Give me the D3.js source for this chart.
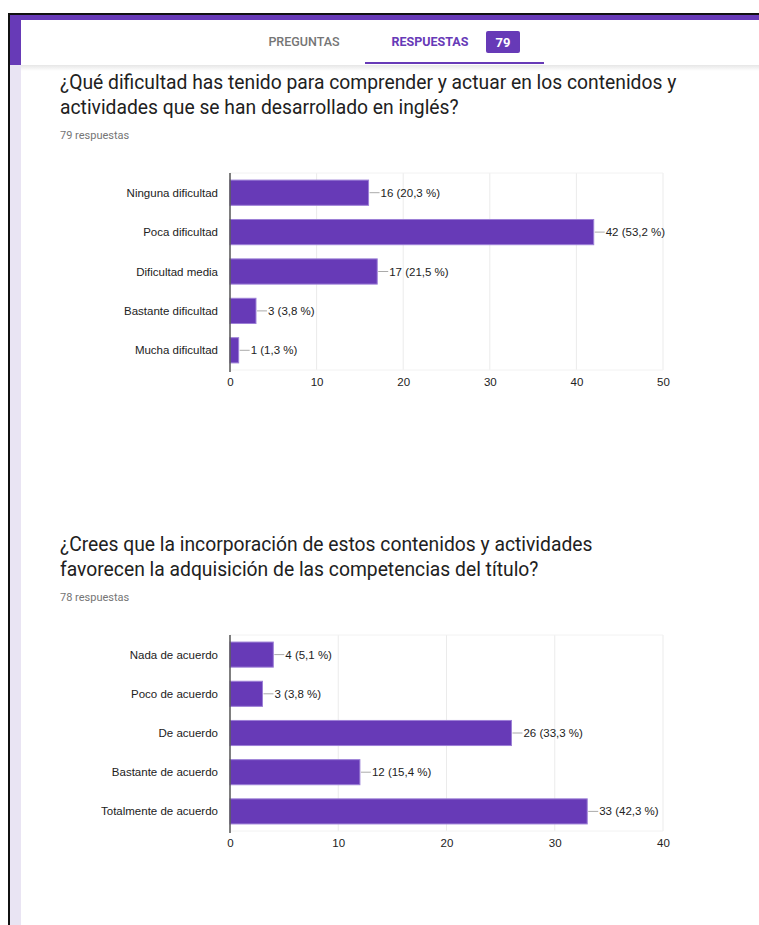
<!doctype html>
<html lang="es">
<head>
<meta charset="utf-8">
<title>Respuestas</title>
<style>
body { margin: 0; background: #fff; font-family: Roboto, Arial, sans-serif; }
svg { display: block; }
</style>
</head>
<body>
<div id="page"></div>
<script src="https://cdn.jsdelivr.net/npm/d3@7"></script>
<script>
// question 1
var cats1 = ["Ninguna dificultad", "Poca dificultad", "Dificultad media", "Bastante dificultad", "Mucha dificultad"];
var vals1 = [16, 42, 17, 3, 1];
var pcts1 = ["20,3", "53,2", "21,5", "3,8", "1,3"];
var ticks1 = [0, 10, 20, 30, 40, 50];

// question 2
var cats2 = ["Nada de acuerdo", "Poco de acuerdo", "De acuerdo", "Bastante de acuerdo", "Totalmente de acuerdo"];
var vals2 = [4, 3, 26, 12, 33];
var pcts2 = ["5,1", "3,8", "33,3", "15,4", "42,3"];
var ticks2 = [0, 10, 20, 30, 40];

var W = 759, H = 925;
var purple = "#673ab7";
var chartFont = "'Liberation Sans', Arial, sans-serif";

var svg = d3.select("#page").append("svg").attr("width", W).attr("height", H);

// page frame
svg.append("rect").attr("x", 10).attr("y", 15).attr("width", 11).attr("height", 50).attr("fill", purple);
svg.append("rect").attr("x", 10).attr("y", 65).attr("width", 11).attr("height", H - 65).attr("fill", "#e9e4f3");
svg.append("rect").attr("x", 10).attr("y", 15).attr("width", W - 10).attr("height", 5).attr("fill", purple);
svg.append("line").attr("x1", 8).attr("x2", W).attr("y1", 14).attr("y2", 14).attr("stroke", "#111").attr("stroke-width", 2);
svg.append("line").attr("x1", 9).attr("x2", 9).attr("y1", 13).attr("y2", H).attr("stroke", "#111").attr("stroke-width", 2);

// header shadow
var grad = svg.append("defs").append("linearGradient").attr("id", "shadow").attr("x1", 0).attr("x2", 0).attr("y1", 0).attr("y2", 1);
grad.append("stop").attr("offset", 0).attr("stop-color", "#e6e6e6");
grad.append("stop").attr("offset", 1).attr("stop-color", "#fff");
svg.append("rect").attr("x", 21).attr("y", 65).attr("width", W - 21).attr("height", 6).attr("fill", "url(#shadow)");

// tabs
svg.append("text").attr("x", 304).attr("y", 46).attr("text-anchor", "middle")
  .attr("font-size", 12.5).attr("font-weight", 500).attr("fill", "#757575").text("PREGUNTAS");
svg.append("text").attr("x", 430).attr("y", 46).attr("text-anchor", "middle")
  .attr("font-size", 12.5).attr("font-weight", 700).attr("fill", purple).text("RESPUESTAS");
svg.append("rect").attr("x", 486).attr("y", 31).attr("width", 34).attr("height", 22).attr("rx", 2).attr("fill", purple);
svg.append("text").attr("x", 503).attr("y", 46.5).attr("text-anchor", "middle")
  .attr("font-size", 13).attr("font-weight", 700).attr("fill", "#fff").text("79");
svg.append("rect").attr("x", 365).attr("y", 62).attr("width", 179).attr("height", 2).attr("fill", purple);

function question(y0, lines, count) {
  lines.forEach(function(t, i) {
    svg.append("text").attr("x", 60).attr("y", y0 + i * 25).attr("font-size", 19.3)
      .attr("fill", "#212121").text(t);
  });
  svg.append("text").attr("x", 60).attr("y", y0 + 50).attr("font-size", 11)
    .attr("fill", "#757575").text(count);
}

function chart(cats, vals, pcts, ticks, top, bottom) {
  var x = d3.scaleLinear().domain([0, d3.max(ticks)]).range([230, 663]);
  var y = d3.scaleBand().domain(cats).range([top, bottom]).paddingInner(0.36).paddingOuter(0.18);
  var g = svg.append("g").attr("font-family", chartFont);

  // grid box
  g.selectAll(".grid").data(ticks.slice(1)).enter().append("line")
    .attr("x1", function(d) { return x(d); }).attr("x2", function(d) { return x(d); })
    .attr("y1", top).attr("y2", bottom).attr("stroke", "#ebebeb");
  [top, bottom].forEach(function(yy) {
    g.append("line").attr("x1", x(0)).attr("x2", x.range()[1]).attr("y1", yy).attr("y2", yy).attr("stroke", "#f2f2f2");
  });

  var axis = g.append("g").attr("transform", "translate(0," + (bottom + 8) + ")")
    .call(d3.axisBottom(x).tickValues(ticks).tickSize(0).tickPadding(0));
  axis.select(".domain").remove();
  axis.selectAll("text").attr("font-family", chartFont).attr("font-size", 11.5).attr("fill", "#222");

  g.selectAll(".cat").data(cats).enter().append("text")
    .attr("x", 218).attr("y", function(d) { return y(d) + y.bandwidth() / 2 + 4; })
    .attr("text-anchor", "end").attr("font-size", 11.5).attr("fill", "#222").text(function(d) { return d; });

  g.selectAll(".bar").data(vals).enter().append("rect")
    .attr("x", x(0)).attr("y", function(d, i) { return y(cats[i]); })
    .attr("width", function(d) { return x(d) - x(0); }).attr("height", y.bandwidth())
    .attr("fill", purple).attr("stroke", "#9c7fd6").attr("stroke-width", 1);

  g.selectAll(".lead").data(vals).enter().append("line")
    .attr("x1", function(d) { return x(d) + 1; }).attr("x2", function(d) { return x(d) + 11; })
    .attr("y1", function(d, i) { return y(cats[i]) + y.bandwidth() / 2; })
    .attr("y2", function(d, i) { return y(cats[i]) + y.bandwidth() / 2; })
    .attr("stroke", "#aaa");

  g.selectAll(".val").data(vals).enter().append("text")
    .attr("x", function(d) { return x(d) + 12; })
    .attr("y", function(d, i) { return y(cats[i]) + y.bandwidth() / 2 + 4; })
    .attr("font-size", 11.5).attr("fill", "#222")
    .text(function(d, i) { return d + " (" + pcts[i] + " %)"; });

  // axis line
  g.append("line").attr("x1", x(0)).attr("x2", x(0)).attr("y1", top).attr("y2", bottom + 2)
    .attr("stroke", "#555").attr("stroke-width", 1.5);
}

question(89, ["¿Qué dificultad has tenido para comprender y actuar en los contenidos y",
              "actividades que se han desarrollado en inglés?"], "79 respuestas");
chart(cats1, vals1, pcts1, ticks1, 173, 370);

question(551, ["¿Crees que la incorporación de estos contenidos y actividades",
               "favorecen la adquisición de las competencias del título?"], "78 respuestas");
chart(cats2, vals2, pcts2, ticks2, 635, 831);
</script>
</body>
</html>
